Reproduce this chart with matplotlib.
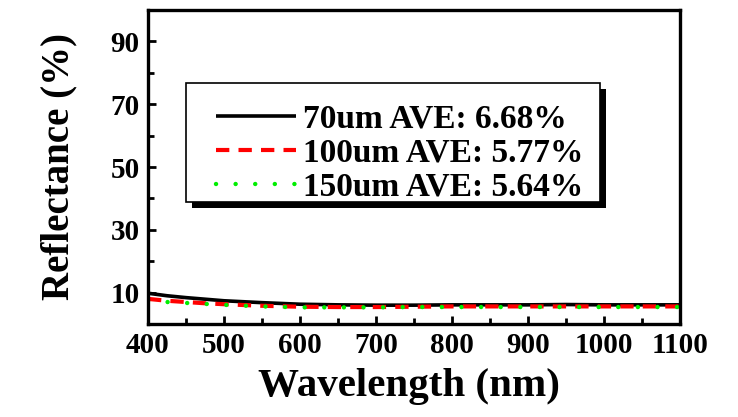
import matplotlib
matplotlib.use("Agg")
import matplotlib.pyplot as plt
from matplotlib.ticker import MultipleLocator
from matplotlib.patches import Rectangle

wavelength = [400, 425, 450, 475, 500, 550, 600, 650, 700, 750, 800, 850, 900, 950, 1000, 1050, 1100]
r_70 = [9.8, 9.0, 8.4, 7.9, 7.4, 6.8, 6.3, 6.1, 6.0, 6.0, 6.1, 6.1, 6.1, 6.2, 6.1, 6.1, 6.1]
r_100 = [8.0, 7.4, 7.0, 6.6, 6.3, 5.8, 5.5, 5.4, 5.4, 5.5, 5.6, 5.6, 5.6, 5.6, 5.6, 5.6, 5.6]
r_150 = [7.3, 7.0, 6.7, 6.4, 6.1, 5.6, 5.3, 5.3, 5.3, 5.4, 5.4, 5.4, 5.4, 5.4, 5.4, 5.4, 5.4]
labels = ["70um AVE: 6.68%", "100um AVE: 5.77%", "150um AVE: 5.64%"]
xticks = [400, 500, 600, 700, 800, 900, 1000, 1100]
yticks = [10, 30, 50, 70, 90]

plt.rcParams['font.family'] = ['Liberation Serif', 'DejaVu Serif']
plt.rcParams['font.weight'] = 'bold'

W, H = 738, 417
fig = plt.figure(figsize=(W/100, H/100), dpi=100)
ax = fig.add_axes([148/W, 1-324/H, 532/W, 314/H])

l1, = ax.plot(wavelength, r_70, color='black', lw=2.6, solid_capstyle='butt', label=labels[0])
l2, = ax.plot(wavelength, r_100, color='#ff0000', lw=3.0, dashes=(3.2, 2.2), label=labels[1])
l3, = ax.plot(wavelength, r_150, color='#00ee00', lw=3.2, dashes=(0.01, 4.4), dash_capstyle='round', label=labels[2])

ax.set_xlim(400, 1100)
ax.set_ylim(0, 100)
ax.set_xticks(xticks)
ax.set_yticks(yticks)
ax.xaxis.set_minor_locator(MultipleLocator(50))
ax.yaxis.set_minor_locator(MultipleLocator(10))
ax.tick_params(which='both', direction='in', width=2, labelsize=21)
ax.tick_params(which='major', length=6, pad=6)
ax.tick_params(which='minor', length=4)
for lab in ax.get_xticklabels() + ax.get_yticklabels():
    lab.set_fontweight('bold')
for s in ax.spines.values():
    s.set_linewidth(2.4)

ax.set_xlabel("Wavelength (nm)", fontsize=29.5, fontweight='bold')
ax.set_ylabel("Reflectance (%)", fontsize=28, fontweight='bold')
ax.xaxis.set_label_coords(0.49, -0.14)
ax.yaxis.set_label_coords(-0.132, 0.5)

# legend frame with solid shadow
fig.add_artist(Rectangle((192/W, 1-208/H), 414/W, 119/H, transform=fig.transFigure,
                         facecolor='black', edgecolor='none', zorder=2))
fig.add_artist(Rectangle((186/W, 1-202/H), 414/W, 119/H, transform=fig.transFigure,
                         facecolor='white', edgecolor='black', lw=1.2, zorder=3))

leg = fig.legend(handles=[l1, l2, l3], labels=labels, loc='center left',
                 bbox_to_anchor=(216/W, 1-153/H), bbox_transform=fig.transFigure,
                 prop={'size': 24, 'weight': 'bold'}, frameon=False,
                 handlelength=2.4, handletextpad=0.22, labelspacing=0.1,
                 borderpad=0, borderaxespad=0)
leg.set_zorder(5)

fig.savefig("out.png", dpi=100)
